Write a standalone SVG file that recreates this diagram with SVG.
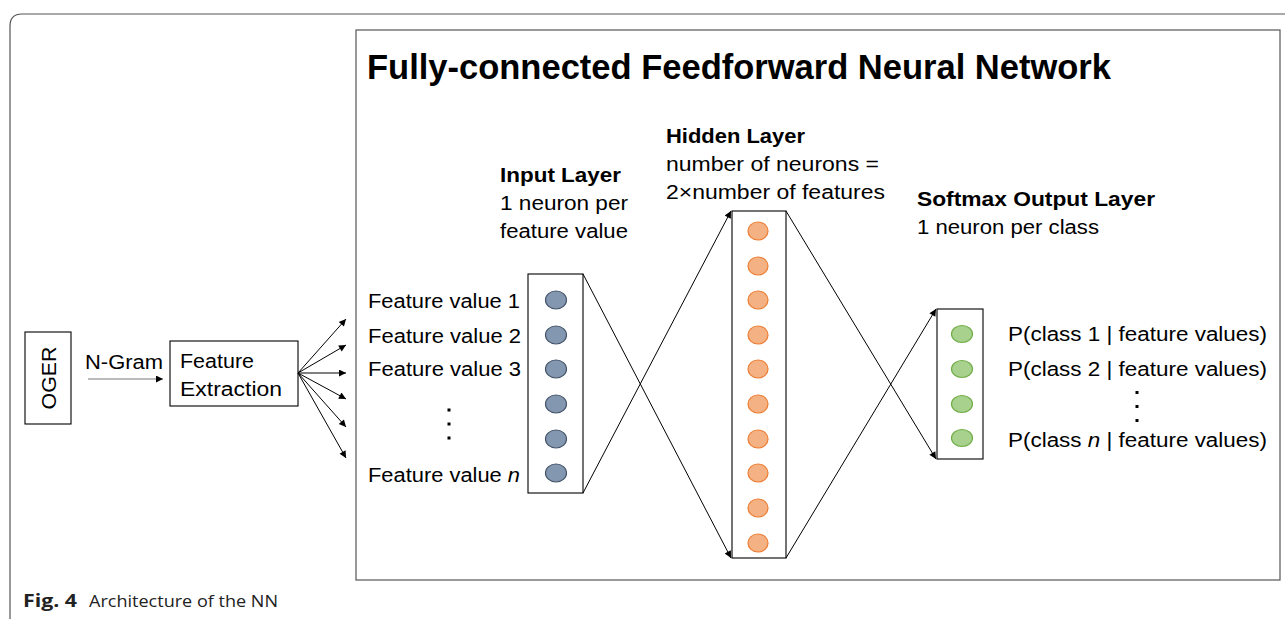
<svg xmlns="http://www.w3.org/2000/svg" width="1285" height="619" viewBox="0 0 1285 619">
  <defs>
    <marker id="head" viewBox="0 0 10 10" refX="10" refY="5" markerWidth="9" markerHeight="7" markerUnits="userSpaceOnUse" orient="auto">
      <path d="M0,0 L10,5 L0,10 z" fill="#000"/>
    </marker>
  </defs>
  <style>
    text { font-family: "Liberation Sans", Arial, sans-serif; fill: #000; }
    .t { font-size: 20px; }
    .b { font-size: 20px; font-weight: bold; }
    .title { font-size: 35px; font-weight: bold; }
    .cap { font-family: "Open Sans", "Liberation Sans", sans-serif; font-size: 17px; fill: #222; }
    .box { fill: #fff; stroke: #000; stroke-width: 1.1; }
    .frame { fill: none; stroke: #555; stroke-width: 1.2; }
    .in { fill: #8497b0; stroke: #44546a; stroke-width: 1.2; }
    .hid { fill: #f4b183; stroke: #ed7d31; stroke-width: 1.2; }
    .out { fill: #a9d18e; stroke: #70ad47; stroke-width: 1.2; }
    .link { fill: none; stroke: #000; stroke-width: 1; marker-end: url(#head); }
    .dot { fill: #000; }
  </style>

  <rect width="1285" height="619" fill="#fff"/>

  <!-- figure frame -->
  <path class="frame" d="M10,625 L10,26 Q10,14 22,14 L1290,14"/>
  <!-- network panel -->
  <rect class="frame" x="356" y="30" width="924" height="550"/>
  <text class="title" x="367" y="79" textLength="744" lengthAdjust="spacingAndGlyphs">Fully-connected Feedforward Neural Network</text>

  <!-- OGER source -->
  <g id="oger">
    <rect class="box" x="25" y="332" width="46" height="92"/>
    <text class="t" transform="translate(56,378) rotate(-90)" text-anchor="middle" font-size="22" textLength="63" lengthAdjust="spacingAndGlyphs">OGER</text>
  </g>

  <!-- feature extraction -->
  <g id="feature-extraction">
    <rect class="box" x="170" y="341" width="128" height="65"/>
    <text class="t" x="180" y="368" textLength="74" lengthAdjust="spacingAndGlyphs">Feature</text>
    <text class="t" x="180" y="396" textLength="102" lengthAdjust="spacingAndGlyphs">Extraction</text>
  </g>

  <!-- feature value labels -->
  <g id="feature-labels">
    <text class="t" x="368" y="308" textLength="152" lengthAdjust="spacingAndGlyphs">Feature value 1</text>
    <text class="t" x="368" y="343" textLength="153" lengthAdjust="spacingAndGlyphs">Feature value 2</text>
    <text class="t" x="368" y="376" textLength="153" lengthAdjust="spacingAndGlyphs">Feature value 3</text>
    <rect class="dot" x="447.5" y="408.5" width="3" height="3"/>
    <rect class="dot" x="447.5" y="422.5" width="3" height="3"/>
    <rect class="dot" x="447.5" y="436.5" width="3" height="3"/>
    <text class="t" x="368" y="482" textLength="152" lengthAdjust="spacingAndGlyphs">Feature value <tspan font-style="italic">n</tspan></text>
  </g>

  <!-- input layer -->
  <g id="input-layer">
    <text class="b" x="500" y="182" textLength="121" lengthAdjust="spacingAndGlyphs">Input Layer</text>
    <text class="t" x="500" y="210" textLength="128" lengthAdjust="spacingAndGlyphs">1 neuron per</text>
    <text class="t" x="500" y="238" textLength="128" lengthAdjust="spacingAndGlyphs">feature value</text>
    <rect class="box" x="528" y="274" width="55" height="219"/>
    <ellipse class="in" cx="556" cy="300" rx="10.5" ry="9"/>
    <ellipse class="in" cx="556" cy="335" rx="10.5" ry="9"/>
    <ellipse class="in" cx="556" cy="369" rx="10.5" ry="9"/>
    <ellipse class="in" cx="556" cy="404" rx="10.5" ry="9"/>
    <ellipse class="in" cx="556" cy="439" rx="10.5" ry="9"/>
    <ellipse class="in" cx="556" cy="473" rx="10.5" ry="9"/>
  </g>

  <!-- hidden layer -->
  <g id="hidden-layer">
    <text class="b" x="666" y="143" textLength="139" lengthAdjust="spacingAndGlyphs">Hidden Layer</text>
    <text class="t" x="666" y="171" textLength="213" lengthAdjust="spacingAndGlyphs">number of neurons =</text>
    <text class="t" x="666" y="199" textLength="219" lengthAdjust="spacingAndGlyphs">2×number of features</text>
    <rect class="box" x="732" y="211" width="54" height="347"/>
    <ellipse class="hid" cx="758" cy="231" rx="10" ry="9"/>
    <ellipse class="hid" cx="758" cy="266" rx="10" ry="9"/>
    <ellipse class="hid" cx="758" cy="300" rx="10" ry="9"/>
    <ellipse class="hid" cx="758" cy="335" rx="10" ry="9"/>
    <ellipse class="hid" cx="758" cy="369" rx="10" ry="9"/>
    <ellipse class="hid" cx="758" cy="404" rx="10" ry="9"/>
    <ellipse class="hid" cx="758" cy="439" rx="10" ry="9"/>
    <ellipse class="hid" cx="758" cy="473" rx="10" ry="9"/>
    <ellipse class="hid" cx="758" cy="508" rx="10" ry="9"/>
    <ellipse class="hid" cx="758" cy="543" rx="10" ry="9"/>
  </g>

  <!-- softmax output layer -->
  <g id="output-layer">
    <text class="b" x="917" y="206" textLength="238" lengthAdjust="spacingAndGlyphs">Softmax Output Layer</text>
    <text class="t" x="917" y="234" textLength="182" lengthAdjust="spacingAndGlyphs">1 neuron per class</text>
    <rect class="box" x="937" y="309" width="46" height="150"/>
    <ellipse class="out" cx="962" cy="334" rx="10.5" ry="8.5"/>
    <ellipse class="out" cx="962" cy="369" rx="10.5" ry="8.5"/>
    <ellipse class="out" cx="962" cy="404" rx="10.5" ry="8.5"/>
    <ellipse class="out" cx="962" cy="438" rx="10.5" ry="8.5"/>
  </g>

  <!-- class probability labels -->
  <g id="output-labels">
    <text class="t" x="1008" y="341" textLength="259" lengthAdjust="spacingAndGlyphs">P(class 1 | feature values)</text>
    <text class="t" x="1008" y="376" textLength="259" lengthAdjust="spacingAndGlyphs">P(class 2 | feature values)</text>
    <rect class="dot" x="1135.5" y="391" width="3" height="3"/>
    <rect class="dot" x="1135.5" y="405" width="3" height="3"/>
    <rect class="dot" x="1135.5" y="419" width="3" height="3"/>
    <text class="t" x="1008" y="447" textLength="259" lengthAdjust="spacingAndGlyphs">P(class <tspan font-style="italic">n</tspan> | feature values)</text>
  </g>

  <!-- connectors -->
  <g id="connectors">
    <text class="t" x="85" y="369" textLength="78" lengthAdjust="spacingAndGlyphs">N-Gram</text>
    <line x1="88" y1="379" x2="163" y2="379" stroke="#777" stroke-width="1" marker-end="url(#head)"/>
    <line class="link" x1="298" y1="373" x2="346" y2="319"/>
    <line class="link" x1="298" y1="373" x2="346" y2="345"/>
    <line class="link" x1="298" y1="373" x2="346" y2="373"/>
    <line class="link" x1="298" y1="373" x2="346" y2="399"/>
    <line class="link" x1="298" y1="373" x2="346" y2="427"/>
    <line class="link" x1="298" y1="373" x2="346" y2="458"/>
    <line class="link" x1="583" y1="274" x2="731" y2="558"/>
    <line class="link" x1="583" y1="493" x2="731" y2="211"/>
    <line class="link" x1="786" y1="211" x2="936" y2="459"/>
    <line class="link" x1="786" y1="558" x2="936" y2="309"/>
  </g>

  <!-- caption -->
  <text class="cap" x="23" y="607" font-weight="bold" fill="#000" textLength="54" lengthAdjust="spacingAndGlyphs">Fig. 4</text>
  <text class="cap" x="89" y="607" textLength="189" lengthAdjust="spacingAndGlyphs">Architecture of the NN</text>
</svg>
